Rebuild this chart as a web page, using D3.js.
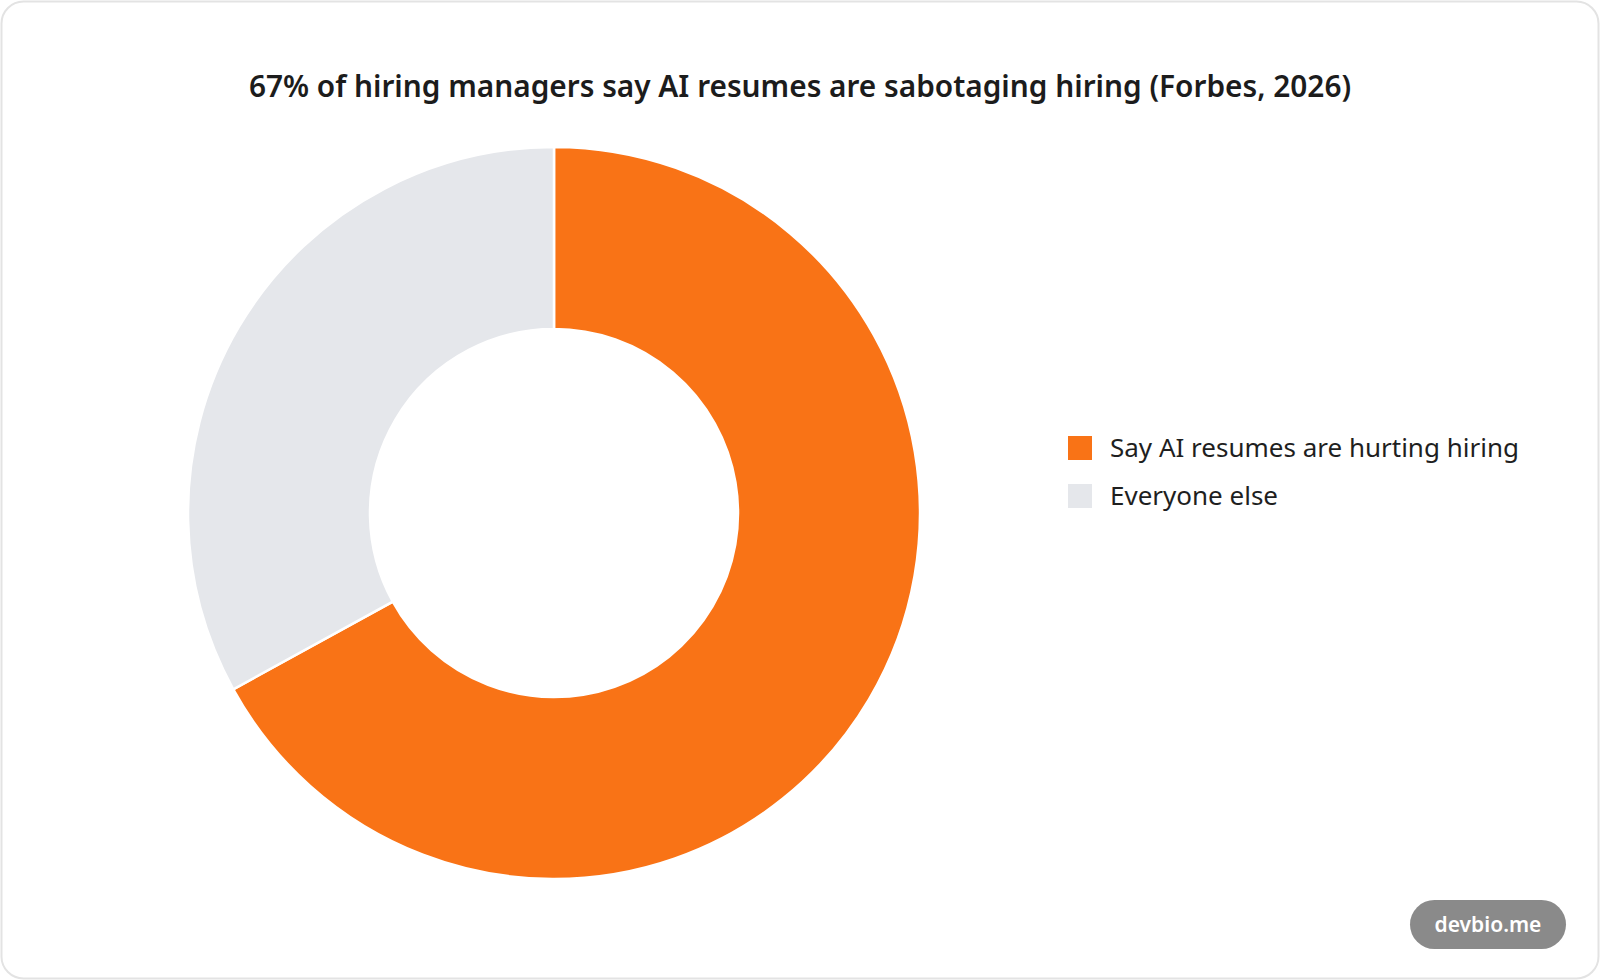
<!DOCTYPE html>
<html>
<head>
<meta charset="utf-8">
<script src="https://cdn.jsdelivr.net/npm/d3@7"></script>
<style>
  html, body { margin: 0; padding: 0; background: #ffffff; }
  svg { display: block; font-family: 'Noto Sans', 'DejaVu Sans', sans-serif; }
</style>
</head>
<body>
<div id="chart"></div>
<script>
// chart data
let labels = ['Say AI resumes are hurting hiring', 'Everyone else'];
let values = [67, 33];
let colors = ['#f97316', '#e5e7eb'];
let title = '67% of hiring managers say AI resumes are sabotaging hiring (Forbes, 2026)';
let badgeText = 'devbio.me';

// svg size
let svgWidth = 1600;
let svgHeight = 980;

let svg = d3.select('#chart').append('svg')
    .attr('width', svgWidth)
    .attr('height', svgHeight);

// card background
svg.append('rect')
    .attr('x', 1.5)
    .attr('y', 1.5)
    .attr('width', svgWidth - 3)
    .attr('height', svgHeight - 3)
    .attr('rx', 22)
    .attr('fill', '#ffffff')
    .attr('stroke', '#e3e3e3')
    .attr('stroke-width', 2);

// title
svg.append('text')
    .attr('x', 800)
    .attr('y', 97)
    .attr('text-anchor', 'middle')
    .attr('font-size', '29.8px')
    .attr('font-weight', 600)
    .attr('fill', '#1c1c1c')
    .text(title);

// donut
let cx = 554, cy = 513;
let outerR = 366, innerR = 184;

let pie = d3.pie().sort(null).value(d => d);
let arc = d3.arc().innerRadius(innerR).outerRadius(outerR);

let donut = svg.append('g').attr('transform', `translate(${cx}, ${cy})`);

donut.selectAll('path')
    .data(pie(values))
    .enter()
    .append('path')
    .attr('d', arc)
    .attr('fill', (d, i) => colors[i])
    .attr('stroke', '#ffffff')
    .attr('stroke-width', 2.5);

// legend
let legend = svg.append('g').attr('transform', 'translate(1068, 436)');

let items = legend.selectAll('g')
    .data(labels)
    .enter()
    .append('g')
    .attr('transform', (d, i) => `translate(0, ${i * 48})`);

items.append('rect')
    .attr('width', 24)
    .attr('height', 24)
    .attr('fill', (d, i) => colors[i]);

items.append('text')
    .attr('x', 42)
    .attr('y', 21)
    .attr('font-size', '26px')
    .attr('fill', '#1f1f1f')
    .text(d => d);

// watermark badge
let badge = svg.append('g').attr('transform', 'translate(1410, 900)');
badge.append('rect')
    .attr('width', 156)
    .attr('height', 49)
    .attr('rx', 24.5)
    .attr('fill', '#8a8a8a');
badge.append('text')
    .attr('x', 78)
    .attr('y', 32)
    .attr('text-anchor', 'middle')
    .attr('font-size', '21px')
    .attr('font-weight', 600)
    .attr('fill', '#ffffff')
    .text(badgeText);
</script>
</body>
</html>
